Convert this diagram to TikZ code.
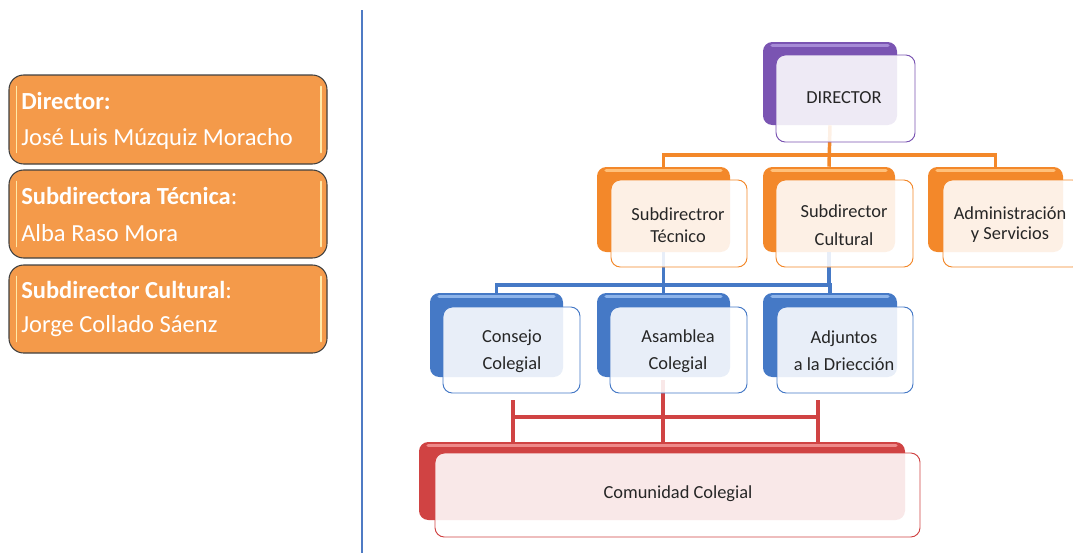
\documentclass[tikz,border=0pt]{standalone}
\usepackage{fontspec}
\setmainfont{Carlito}
\usetikzlibrary{fit}
\definecolor{cpurple}{HTML}{7A54B2}
\definecolor{cpurpleL}{HTML}{A68BD6}
\definecolor{corange}{HTML}{F3882A}
\definecolor{corangeL}{HTML}{FFC07A}
\definecolor{cblue}{HTML}{4579C6}
\definecolor{cblueL}{HTML}{8DB4EA}
\definecolor{cred}{HTML}{D04343}
\definecolor{credL}{HTML}{EE8A8A}
\definecolor{lorange}{HTML}{F49A4A}
\definecolor{hlyellow}{HTML}{FFE9A8}
\definecolor{divblue}{HTML}{4F7BC4}
\definecolor{txt}{HTML}{262626}
\tikzset{
  backbox/.style={fit={#1}, inner sep=0pt, rounded corners=7pt},
  frontbox/.style={fit={#1}, inner sep=0pt, rounded corners=7pt, fill=white, fill opacity=0.88, line width=0.7pt},
  chart/.style={font=\fontsize{13.8}{16}\selectfont, text=txt, align=center, inner sep=0pt},
  leftbox/.style={fit={#1}, inner sep=0pt, rounded corners=11pt, fill=lorange, draw=black!75, line width=0.8pt},
  lefttext/.style={font=\fontsize{18.4}{21}\selectfont, text=white, anchor=west, inner sep=0pt},
  hl/.style={draw=hlyellow, line width=1.2pt, line cap=round},
  conn/.style={line width=2.6pt}
}
\newcommand{\backcard}[4]{%
  \node[backbox={#2}, fill=#3] (#1) {};
  \draw[draw=#4, line width=2.5pt, line cap=round] ([xshift=7pt,yshift=-3pt]#1.north west) -- ([xshift=-7pt,yshift=-3pt]#1.north east);
}
\begin{document}
\begin{tikzpicture}[x=0.75pt,y=-0.75pt]
\useasboundingbox (0,0) rectangle (1073,553);

% divider
\coordinate (dvt) at (362,10);
\coordinate (dvb) at (362,553);
\draw[draw=divblue, line width=2.2pt] (dvt) -- (dvb);

% left boxes
\node[leftbox={(9,75) (327,164)}] (lb1) {};
\node[leftbox={(9,170) (327,258)}] (lb2) {};
\node[leftbox={(9,265) (327,353)}] (lb3) {};
\foreach \b in {lb1,lb2,lb3}{
  \draw[hl] ([xshift=6pt,yshift=-9pt]\b.north west) -- ([xshift=6pt,yshift=9pt]\b.south west);
  \draw[hl] ([xshift=-5pt,yshift=-9pt]\b.north east) -- ([xshift=-5pt,yshift=9pt]\b.south east);
}
\node[lefttext] (lt1a) at (21,101) {\textbf{Director:}};
\node[lefttext] (lt1b) at (21,139) {José Luis Múzquiz Moracho};
\node[lefttext] (lt2a) at (21,196) {\textbf{Subdirectora Técnica}:};
\node[lefttext] (lt2b) at (21,233) {Alba Raso Mora};
\node[lefttext] (lt3a) at (21,290) {\textbf{Subdirector Cultural}:};
\node[lefttext] (lt3b) at (21,326) {Jorge Collado Sáenz};

% back boxes
\backcard{dirb}{(763,42) (897,125)}{cpurple}{cpurpleL}
\backcard{stb}{(597,167) (730,252)}{corange}{corangeL}
\backcard{scb}{(763,167) (895,252)}{corange}{corangeL}
\backcard{asb}{(928,167) (1063,252)}{corange}{corangeL}
\backcard{ccb}{(430,293) (563,377)}{cblue}{cblueL}
\backcard{acb}{(597,293) (730,377)}{cblue}{cblueL}
\backcard{adb}{(763,293) (897,377)}{cblue}{cblueL}
\backcard{cmb}{(419,442) (905,520)}{cred}{credL}

% connectors orange
\coordinate (oh) at (0,155);
\draw[conn, draw=corange] (dirb.south) -- (scb.north);
\draw[conn, draw=corange] (stb.north) |- (oh -| asb.north) -- (asb.north);
% connectors blue
\coordinate (bh) at (0,285);
\draw[conn, draw=cblue] (stb.south) -- (acb.north);
\draw[conn, draw=cblue] (ccb.north) |- (bh -| adb.north) -- (adb.north);
\draw[conn, draw=cblue] (scb.south) -- (bh -| scb.south);
% connectors red
\coordinate (r1) at (513,400);
\coordinate (r2) at (663,380);
\coordinate (r3) at (818,400);
\coordinate (rh) at (0,417);
\draw[conn, draw=cred] (r1) -- (r1 |- cmb.north);
\draw[conn, draw=cred] (r2) -- (r2 |- cmb.north);
\draw[conn, draw=cred] (r3) -- (r3 |- cmb.north);
\draw[conn, draw=cred] (rh -| r1) -- (rh -| r3);

% front boxes
\node[frontbox={(776,55) (915,142)}, draw=cpurple] (dir) {};
\node[frontbox={(611,180) (747,267)}, draw=corange] (st) {};
\node[frontbox={(776,180) (913,267)}, draw=corange] (sc) {};
\node[frontbox={(943,180) (1082,267)}, draw=corange] (as) {};
\node[frontbox={(443,307) (580,393)}, draw=cblue] (cc) {};
\node[frontbox={(610,307) (747,393)}, draw=cblue] (ac) {};
\node[frontbox={(777,307) (913,393)}, draw=cblue] (ad) {};
\node[frontbox={(435,453) (920,537)}, draw=cred] (cm) {};

% texts
\node[chart] (dirT) at (844,98) {DIRECTOR};
\node[chart, font=\fontsize{13.8}{16.5}\selectfont] (stT) at (678,225) {Subdirectror\\Técnico};
\node[chart, font=\fontsize{13.8}{21}\selectfont] (scT) at (844,225) {Subdirector\\Cultural};
\node[chart, font=\fontsize{13.8}{15}\selectfont] (asT) at (1010,225) {Administración\\y Servicios};
\node[chart, font=\fontsize{13.8}{20}\selectfont] (ccT) at (512,351) {Consejo\\Colegial};
\node[chart, font=\fontsize{13.8}{20}\selectfont] (acT) at (678,351) {Asamblea\\Colegial};
\node[chart, font=\fontsize{13.8}{20}\selectfont] (adT) at (844,351) {Adjuntos\\a la Driección};
\node[chart] (cmT) at (678,494) {Comunidad Colegial};
\end{tikzpicture}
\end{document}
